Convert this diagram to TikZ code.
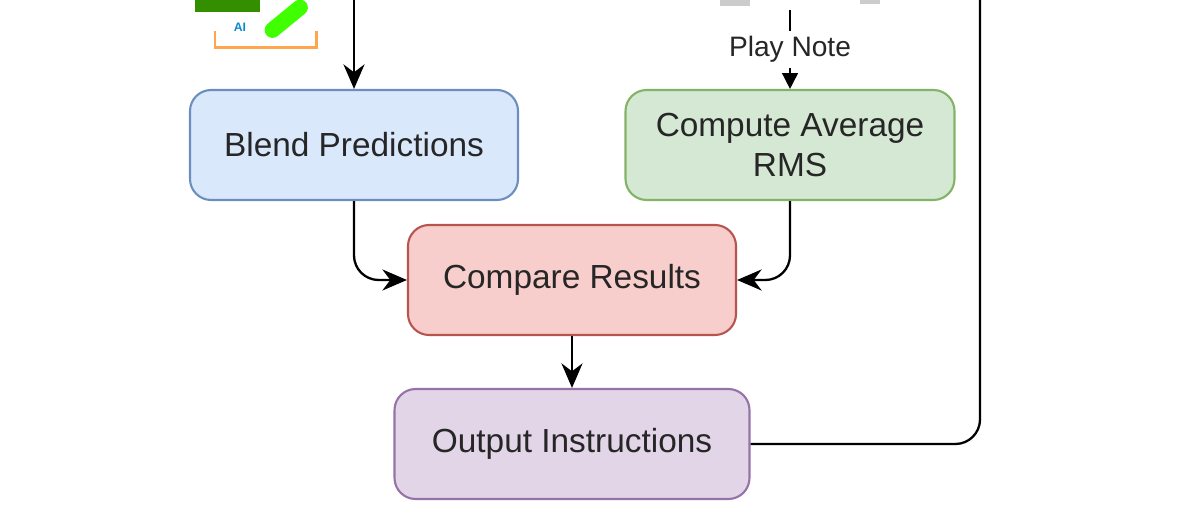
\documentclass[tikz,border=0pt]{standalone}
\usepackage{fontspec}
\setmainfont{Liberation Sans}
\usetikzlibrary{arrows.meta,positioning}
\definecolor{bluefill}{HTML}{DAE8FC}\definecolor{blueline}{HTML}{6C8EBF}
\definecolor{greenfill}{HTML}{D5E8D4}\definecolor{greenline}{HTML}{82B366}
\definecolor{redfill}{HTML}{F8CECC}\definecolor{redline}{HTML}{B85450}
\definecolor{purplefill}{HTML}{E1D5E7}\definecolor{purpleline}{HTML}{9673A6}
\tikzset{
  stage/.style={draw, rounded corners=12pt, line width=1.2pt, minimum height=2.2cm,
    align=center, font=\fontsize{19}{23}\selectfont, text=black!85},
  flow/.style={-{Stealth[length=14pt,width=12pt]}, line width=1.3pt, rounded corners=14pt}
}
\begin{document}
\begin{tikzpicture}
  \useasboundingbox (0,0) rectangle (24,-10.52);
  % cut-off icon top left
  \fill[green!45!black!80!yellow] (3.9,-0.25) rectangle (5.2,0.4);
  \draw[green!75!yellow, line width=9pt, line cap=round] (5.45,-0.6) -- (6.0,-0.15);
  \node[text=cyan!70!blue, font=\bfseries\fontsize{7}{8}\selectfont] (ai) at (4.8,-0.55) {AI};
  \draw[orange!70, line width=1.2pt] (4.3,-0.62) -- (4.3,-0.95) -- (6.33,-0.95) -- (6.33,-0.62);
  \fill[gray!40] (14.4,0) rectangle (15.0,-0.12);
  \fill[gray!40] (17.2,0) rectangle (17.6,-0.08);
  % stages
  \node[stage, fill=bluefill, draw=blueline, minimum width=6.56cm] (blend) at (7.08,-2.9) {Blend Predictions};
  \node[stage, fill=greenfill, draw=greenline, minimum width=6.58cm] (rms) at (15.8,-2.9) {Compute Average\\RMS};
  \node[stage, fill=redfill, draw=redline, minimum width=6.56cm] (compare) at (11.44,-5.6) {Compare Results};
  \node[stage, fill=purplefill, draw=purpleline, minimum width=7.1cm] (output) at (11.44,-8.88) {Output Instructions};
  \coordinate (intop) at (7.08,0);
  \coordinate (notetop) at (15.8,-0.2);
  \coordinate (looptop) at (19.6,0);
  % connectors
  \draw[flow] (intop) -- (blend);
  \draw[-{Triangle[length=9pt,width=9pt]}, line width=0.9pt] (notetop) -- node[fill=white, font=\fontsize{16}{19}\selectfont, text=black!85] {Play Note} (rms);
  \draw[flow] (blend.south) |- (compare.west);
  \draw[flow] (rms.south) |- (compare.east);
  \draw[flow] (compare) -- (output);
  \draw[line width=1.3pt, rounded corners=14pt] (output.east) -| (looptop);
\end{tikzpicture}
\end{document}
